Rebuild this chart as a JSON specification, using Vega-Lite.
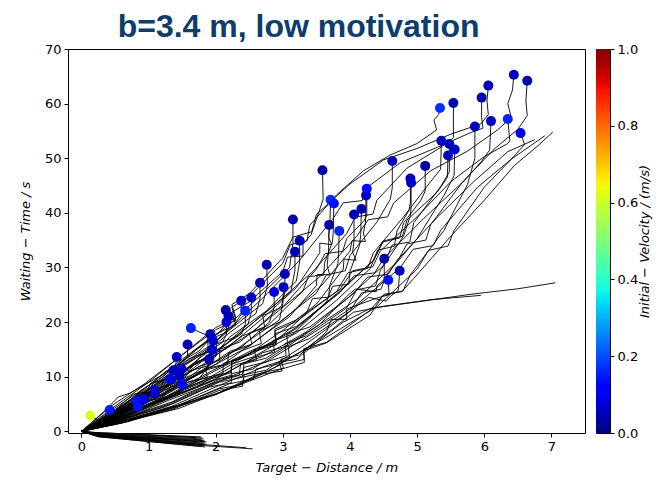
{
"$schema":"https://vega.github.io/schema/vega-lite/v6.json",
"autosize":{"type":"pad"},
"padding":{"left":18,"top":10,"right":4,"bottom":3},
"background":"white",
"bounds":"flush",
"spacing":11,
"title":{"text":"b=3.4 m, low motivation","font":"Liberation Sans","fontSize":32,"fontWeight":"bold","color":"#0d3d6b","anchor":"middle","dx":-37,"offset":-1},
"config":{"view":{"stroke":"#000","strokeWidth":1},
"axis":{"labelFont":"DejaVu Sans","labelFontSize":13,"labelColor":"#000","titleFont":"DejaVu Sans","titleFontSize":13,"titleFontWeight":"normal","titleFontStyle":"italic","titleColor":"#000","tickColor":"#000","tickSize":4,"tickWidth":1,"domain":false,"grid":false,"labelPadding":3}},
"datasets":{
"D":[{"x":0.13,"y":2.9,"v":0.62},{"x":0.42,"y":3.9,"v":0.15},{"x":0.82,"y":5.5,"v":0.14},{"x":0.84,"y":4.5,"v":0.14},{"x":0.93,"y":5.9,"v":0.09},{"x":1.09,"y":7.6,"v":0.05},{"x":1.09,"y":7.0,"v":0.06},{"x":1.32,"y":9.5,"v":0.1},{"x":1.37,"y":11.2,"v":0.05},{"x":1.49,"y":11.4,"v":0.07},{"x":1.46,"y":10.2,"v":0.06},{"x":1.5,"y":8.5,"v":0.11},{"x":1.42,"y":13.6,"v":0.06},{"x":1.58,"y":15.9,"v":0.04},{"x":1.63,"y":18.9,"v":0.16},{"x":1.92,"y":17.8,"v":0.04},{"x":1.96,"y":16.6,"v":0.07},{"x":1.95,"y":14.9,"v":0.07},{"x":1.9,"y":13.2,"v":0.05},{"x":2.15,"y":22.2,"v":0.04},{"x":2.19,"y":21.1,"v":0.05},{"x":2.16,"y":20.0,"v":0.07},{"x":2.38,"y":23.9,"v":0.07},{"x":2.44,"y":22.1,"v":0.16},{"x":2.53,"y":24.5,"v":0.06},{"x":2.66,"y":27.2,"v":0.05},{"x":2.76,"y":30.5,"v":0.04},{"x":2.87,"y":25.5,"v":0.08},{"x":3.01,"y":26.4,"v":0.06},{"x":3.03,"y":28.8,"v":0.05},{"x":3.18,"y":32.9,"v":0.05},{"x":3.25,"y":34.9,"v":0.05},{"x":3.15,"y":38.8,"v":0.04},{"x":3.59,"y":47.8,"v":0.03},{"x":3.69,"y":37.8,"v":0.04},{"x":3.84,"y":36.7,"v":0.16},{"x":3.71,"y":42.4,"v":0.17},{"x":3.76,"y":41.7,"v":0.14},{"x":4.06,"y":39.7,"v":0.05},{"x":4.17,"y":40.7,"v":0.04},{"x":4.24,"y":43.2,"v":0.05},{"x":4.25,"y":44.4,"v":0.13},{"x":4.51,"y":31.6,"v":0.04},{"x":4.57,"y":27.7,"v":0.14},{"x":4.74,"y":29.4,"v":0.04},{"x":4.63,"y":49.5,"v":0.05},{"x":4.9,"y":46.3,"v":0.05},{"x":4.91,"y":45.5,"v":0.06},{"x":5.12,"y":48.6,"v":0.04},{"x":5.34,"y":59.2,"v":0.17},{"x":5.54,"y":60.1,"v":0.04},{"x":5.36,"y":53.2,"v":0.06},{"x":5.48,"y":52.6,"v":0.05},{"x":5.56,"y":51.6,"v":0.06},{"x":5.46,"y":50.5,"v":0.05},{"x":5.86,"y":55.8,"v":0.06},{"x":5.96,"y":61.1,"v":0.04},{"x":6.06,"y":63.3,"v":0.05},{"x":6.1,"y":56.8,"v":0.06},{"x":6.35,"y":57.2,"v":0.16},{"x":6.44,"y":65.3,"v":0.05},{"x":6.64,"y":64.2,"v":0.04},{"x":6.54,"y":54.6,"v":0.09}],
"L":[
{"t":1,"o":0,"x":0,"y":0},{"t":1,"o":1,"x":0.09,"y":0.6},{"t":1,"o":2,"x":0.2,"y":1.3},{"t":1,"o":3,"x":0.25,"y":1.9},{"t":1,"o":4,"x":0.2,"y":2.4},{"t":1,"o":5,"x":0.13,"y":2.9},
{"t":2,"o":0,"x":0,"y":0},{"t":2,"o":1,"x":0.12,"y":0.7},{"t":2,"o":2,"x":0.26,"y":1.5},{"t":2,"o":3,"x":0.37,"y":2.3},{"t":2,"o":4,"x":0.43,"y":2.8},{"t":2,"o":5,"x":0.42,"y":3.9},
{"t":3,"o":0,"x":0,"y":0},{"t":3,"o":1,"x":0.16,"y":1.1},{"t":3,"o":2,"x":0.33,"y":1.9},{"t":3,"o":3,"x":0.5,"y":3.0},{"t":3,"o":4,"x":0.66,"y":3.7},{"t":3,"o":5,"x":0.8,"y":4.7},{"t":3,"o":6,"x":0.82,"y":5.5},
{"t":4,"o":0,"x":0,"y":0},{"t":4,"o":1,"x":0.2,"y":0.8},{"t":4,"o":2,"x":0.4,"y":1.9},{"t":4,"o":3,"x":0.58,"y":2.5},{"t":4,"o":4,"x":0.75,"y":3.4},{"t":4,"o":5,"x":0.85,"y":3.8},{"t":4,"o":6,"x":0.84,"y":4.5},
{"t":5,"o":0,"x":0,"y":0},{"t":5,"o":1,"x":0.18,"y":1.2},{"t":5,"o":2,"x":0.38,"y":2.2},{"t":5,"o":3,"x":0.56,"y":3.5},{"t":5,"o":4,"x":0.73,"y":4.2},{"t":5,"o":5,"x":0.89,"y":5.1},{"t":5,"o":6,"x":0.93,"y":5.9},
{"t":6,"o":0,"x":0,"y":0},{"t":6,"o":1,"x":0.18,"y":1.3},{"t":6,"o":2,"x":0.4,"y":2.6},{"t":6,"o":3,"x":0.6,"y":4.3},{"t":6,"o":4,"x":0.8,"y":5.3},{"t":6,"o":5,"x":0.97,"y":6.5},{"t":6,"o":6,"x":1.08,"y":6.7},{"t":6,"o":7,"x":1.09,"y":7.6},
{"t":7,"o":0,"x":0,"y":0},{"t":7,"o":1,"x":0.21,"y":0.9},{"t":7,"o":2,"x":0.43,"y":2.5},{"t":7,"o":3,"x":0.65,"y":3.6},{"t":7,"o":4,"x":0.86,"y":5.1},{"t":7,"o":5,"x":1.01,"y":5.6},{"t":7,"o":6,"x":1.1,"y":6.1},{"t":7,"o":7,"x":1.09,"y":7.0},
{"t":8,"o":0,"x":0,"y":0},{"t":8,"o":1,"x":0.22,"y":1.2},{"t":8,"o":2,"x":0.46,"y":2.5},{"t":8,"o":3,"x":0.69,"y":4.5},{"t":8,"o":4,"x":0.92,"y":5.7},{"t":8,"o":5,"x":1.13,"y":7.5},{"t":8,"o":6,"x":1.3,"y":8.2},{"t":8,"o":7,"x":1.32,"y":9.5},
{"t":9,"o":0,"x":0,"y":0},{"t":9,"o":1,"x":0.2,"y":1.5},{"t":9,"o":2,"x":0.44,"y":3.0},{"t":9,"o":3,"x":0.67,"y":5.3},{"t":9,"o":4,"x":0.9,"y":6.8},{"t":9,"o":5,"x":1.13,"y":8.9},{"t":9,"o":6,"x":1.35,"y":9.8},{"t":9,"o":7,"x":1.37,"y":11.2},
{"t":10,"o":0,"x":0,"y":0},{"t":10,"o":1,"x":0.25,"y":1.2},{"t":10,"o":2,"x":0.51,"y":3.3},{"t":10,"o":3,"x":0.76,"y":4.8},{"t":10,"o":4,"x":1.01,"y":7.1},{"t":10,"o":5,"x":1.26,"y":8.4},{"t":10,"o":6,"x":1.47,"y":10.1},{"t":10,"o":7,"x":1.49,"y":11.4},
{"t":11,"o":0,"x":0,"y":0},{"t":11,"o":1,"x":0.23,"y":1.1},{"t":11,"o":2,"x":0.49,"y":2.3},{"t":11,"o":3,"x":0.74,"y":4.4},{"t":11,"o":4,"x":1.0,"y":5.7},{"t":11,"o":5,"x":1.23,"y":7.6},{"t":11,"o":6,"x":1.45,"y":8.6},{"t":11,"o":7,"x":1.46,"y":10.2},
{"t":12,"o":0,"x":0,"y":0},{"t":12,"o":1,"x":0.26,"y":0.9},{"t":12,"o":2,"x":0.53,"y":2.5},{"t":12,"o":3,"x":0.79,"y":3.6},{"t":12,"o":4,"x":1.04,"y":5.3},{"t":12,"o":5,"x":1.29,"y":6.1},{"t":12,"o":6,"x":1.5,"y":7.3},{"t":12,"o":7,"x":1.5,"y":8.5},
{"t":13,"o":0,"x":0,"y":0},{"t":13,"o":1,"x":0.15,"y":1.6},{"t":13,"o":2,"x":0.35,"y":3.8},{"t":13,"o":3,"x":0.55,"y":6.3},{"t":13,"o":4,"x":0.72,"y":7.0},{"t":13,"o":5,"x":0.95,"y":8.6},{"t":13,"o":6,"x":1.2,"y":10.3},{"t":13,"o":7,"x":1.4,"y":11.9},{"t":13,"o":8,"x":1.42,"y":13.6},
{"t":14,"o":0,"x":0,"y":0},{"t":14,"o":1,"x":0.26,"y":2.1},{"t":14,"o":2,"x":0.52,"y":4.1},{"t":14,"o":3,"x":0.77,"y":6.8},{"t":14,"o":3.5,"x":0.975,"y":7.2},{"t":14,"o":4,"x":1.02,"y":8.6},{"t":14,"o":5,"x":1.27,"y":11.1},{"t":14,"o":6,"x":1.5,"y":12.6},{"t":14,"o":7,"x":1.58,"y":13.6},{"t":14,"o":8,"x":1.58,"y":15.9},
{"t":15,"o":0,"x":0,"y":0},{"t":15,"o":1,"x":0.3,"y":2.3},{"t":15,"o":2,"x":0.6,"y":4.5},{"t":15,"o":3,"x":0.9,"y":7.6},{"t":15,"o":4,"x":1.2,"y":9.9},{"t":15,"o":5,"x":1.5,"y":12.9},{"t":15,"o":6,"x":1.75,"y":14.7},{"t":15,"o":7,"x":1.87,"y":16.3},{"t":15,"o":8,"x":1.88,"y":17.5},{"t":15,"o":9,"x":1.63,"y":18.9},
{"t":16,"o":0,"x":0,"y":0},{"t":16,"o":1,"x":0.3,"y":2.0},{"t":16,"o":2,"x":0.61,"y":4.0},{"t":16,"o":3,"x":0.92,"y":6.9},{"t":16,"o":3.5,"x":1.155,"y":7.55},{"t":16,"o":4,"x":1.23,"y":9.2},{"t":16,"o":5,"x":1.53,"y":12.2},{"t":16,"o":6,"x":1.8,"y":14.1},{"t":16,"o":7,"x":1.93,"y":15.4},{"t":16,"o":8,"x":1.92,"y":17.8},
{"t":17,"o":0,"x":0,"y":0},{"t":17,"o":1,"x":0.31,"y":1.8},{"t":17,"o":2,"x":0.63,"y":3.7},{"t":17,"o":3,"x":0.96,"y":6.5},{"t":17,"o":4,"x":1.29,"y":8.7},{"t":17,"o":5,"x":1.61,"y":11.8},{"t":17,"o":6,"x":1.9,"y":13.8},{"t":17,"o":7,"x":1.97,"y":14.7},{"t":17,"o":8,"x":1.96,"y":16.6},
{"t":18,"o":0,"x":0,"y":0},{"t":18,"o":1,"x":0.31,"y":1.4},{"t":18,"o":2,"x":0.64,"y":3.7},{"t":18,"o":3,"x":0.97,"y":5.4},{"t":18,"o":3.5,"x":1.22,"y":6.25},{"t":18,"o":4,"x":1.31,"y":8.1},{"t":18,"o":5,"x":1.63,"y":10.1},{"t":18,"o":6,"x":1.9,"y":12.8},{"t":18,"o":7,"x":1.96,"y":13.1},{"t":18,"o":8,"x":1.95,"y":14.9},
{"t":19,"o":0,"x":0,"y":0},{"t":19,"o":1,"x":0.3,"y":1.5},{"t":19,"o":2,"x":0.63,"y":3.0},{"t":19,"o":3,"x":0.96,"y":5.3},{"t":19,"o":4,"x":1.29,"y":7.0},{"t":19,"o":5,"x":1.6,"y":9.5},{"t":19,"o":6,"x":1.87,"y":11.2},{"t":19,"o":7,"x":1.9,"y":13.2},
{"t":20,"o":0,"x":0,"y":0},{"t":20,"o":1,"x":0.32,"y":2.5},{"t":20,"o":2,"x":0.68,"y":5.2},{"t":20,"o":3,"x":1.04,"y":8.8},{"t":20,"o":3.5,"x":1.3,"y":9.75},{"t":20,"o":4,"x":1.4,"y":11.7},{"t":20,"o":5,"x":1.75,"y":15.4},{"t":20,"o":6,"x":2.05,"y":18.1},{"t":20,"o":7,"x":2.15,"y":19.6},{"t":20,"o":8,"x":2.15,"y":22.2},
{"t":21,"o":0,"x":0,"y":0},{"t":21,"o":1,"x":0.35,"y":2.1},{"t":21,"o":2,"x":0.72,"y":5.2},{"t":21,"o":3,"x":1.1,"y":7.9},{"t":21,"o":4,"x":1.47,"y":11.5},{"t":21,"o":5,"x":1.83,"y":14.4},{"t":21,"o":6,"x":2.12,"y":17.9},{"t":21,"o":7,"x":2.19,"y":18.9},{"t":21,"o":8,"x":2.19,"y":21.1},
{"t":22,"o":0,"x":0,"y":0},{"t":22,"o":1,"x":0.33,"y":2.1},{"t":22,"o":2,"x":0.7,"y":4.4},{"t":22,"o":3,"x":1.07,"y":7.7},{"t":22,"o":3.5,"x":1.34,"y":8.5},{"t":22,"o":4,"x":1.45,"y":10.3},{"t":22,"o":5,"x":1.8,"y":13.8},{"t":22,"o":6,"x":2.1,"y":16.3},{"t":22,"o":7,"x":2.16,"y":17.8},{"t":22,"o":8,"x":2.16,"y":20.0},
{"t":23,"o":0,"x":0,"y":0},{"t":23,"o":1,"x":0.36,"y":2.4},{"t":23,"o":2,"x":0.76,"y":5.8},{"t":23,"o":3,"x":1.16,"y":8.8},{"t":23,"o":4,"x":1.56,"y":12.8},{"t":23,"o":5,"x":1.95,"y":16.0},{"t":23,"o":6,"x":2.3,"y":20.0},{"t":23,"o":7,"x":2.38,"y":21.4},{"t":23,"o":8,"x":2.38,"y":23.9},
{"t":24,"o":0,"x":0,"y":0},{"t":24,"o":1,"x":0.37,"y":2.2},{"t":24,"o":2,"x":0.78,"y":4.7},{"t":24,"o":3,"x":1.2,"y":8.2},{"t":24,"o":3.5,"x":1.49,"y":9.15},{"t":24,"o":4,"x":1.62,"y":11.1},{"t":24,"o":5,"x":2.0,"y":14.8},{"t":24,"o":6,"x":2.38,"y":17.8},{"t":24,"o":7,"x":2.44,"y":19.6},{"t":24,"o":8,"x":2.44,"y":22.1},
{"t":25,"o":0,"x":0,"y":0},{"t":25,"o":1,"x":0.38,"y":2.2},{"t":25,"o":2,"x":0.8,"y":5.4},{"t":25,"o":3,"x":1.24,"y":8.3},{"t":25,"o":4,"x":1.68,"y":12.2},{"t":25,"o":5,"x":2.1,"y":15.4},{"t":25,"o":6,"x":2.48,"y":19.6},{"t":25,"o":7,"x":2.53,"y":21.8},{"t":25,"o":8,"x":2.53,"y":24.5},
{"t":26,"o":0,"x":0,"y":0},{"t":26,"o":1,"x":0.4,"y":2.8},{"t":26,"o":2,"x":0.85,"y":5.9},{"t":26,"o":3,"x":1.3,"y":10.0},{"t":26,"o":3.5,"x":1.61,"y":11.25},{"t":26,"o":4,"x":1.76,"y":13.5},{"t":26,"o":5,"x":2.2,"y":18.0},{"t":26,"o":6,"x":2.6,"y":21.6},{"t":26,"o":7,"x":2.66,"y":24.3},{"t":26,"o":8,"x":2.66,"y":27.2},
{"t":27,"o":0,"x":0,"y":0},{"t":27,"o":1,"x":0.42,"y":3.0},{"t":27,"o":2,"x":0.88,"y":6.4},{"t":27,"o":3,"x":1.36,"y":10.9},{"t":27,"o":4,"x":1.84,"y":14.8},{"t":27,"o":5,"x":2.3,"y":19.5},{"t":27,"o":6,"x":2.7,"y":23.4},{"t":27,"o":7,"x":2.77,"y":26.6},{"t":27,"o":8,"x":2.76,"y":30.5},
{"t":28,"o":0,"x":0,"y":0},{"t":28,"o":1,"x":0.43,"y":2.1},{"t":28,"o":2,"x":0.92,"y":5.3},{"t":28,"o":3,"x":1.42,"y":8.2},{"t":28,"o":3.5,"x":1.75,"y":9.7},{"t":28,"o":4,"x":1.92,"y":12.2},{"t":28,"o":5,"x":2.4,"y":15.6},{"t":28,"o":6,"x":2.8,"y":20.0},{"t":28,"o":7,"x":2.87,"y":22.6},{"t":28,"o":8,"x":2.87,"y":25.5},
{"t":29,"o":0,"x":0,"y":0},{"t":29,"o":1,"x":0.45,"y":2.4},{"t":29,"o":2,"x":0.96,"y":5.1},{"t":29,"o":3,"x":1.48,"y":8.9},{"t":29,"o":4,"x":2.0,"y":12.3},{"t":29,"o":5,"x":2.5,"y":16.7},{"t":29,"o":6,"x":2.95,"y":20.4},{"t":29,"o":7,"x":3.0,"y":23.4},{"t":29,"o":8,"x":3.01,"y":26.4},
{"t":30,"o":0,"x":0,"y":0},{"t":30,"o":1,"x":0.46,"y":2.5},{"t":30,"o":2,"x":0.97,"y":6.2},{"t":30,"o":3,"x":1.5,"y":9.6},{"t":30,"o":3.5,"x":1.845,"y":11.4},{"t":30,"o":4,"x":2.03,"y":14.2},{"t":30,"o":5,"x":2.55,"y":18.2},{"t":30,"o":6,"x":2.98,"y":23.0},{"t":30,"o":7,"x":3.03,"y":25.5},{"t":30,"o":8,"x":3.03,"y":28.8},
{"t":31,"o":0,"x":0,"y":0},{"t":31,"o":1,"x":0.48,"y":3.1},{"t":31,"o":2,"x":1.02,"y":6.7},{"t":31,"o":3,"x":1.58,"y":11.5},{"t":31,"o":4,"x":2.14,"y":15.8},{"t":31,"o":5,"x":2.68,"y":21.1},{"t":31,"o":6,"x":3.12,"y":25.6},{"t":31,"o":7,"x":3.18,"y":29.5},{"t":31,"o":8,"x":3.18,"y":32.9},
{"t":32,"o":0,"x":0,"y":0},{"t":32,"o":1,"x":0.49,"y":3.1},{"t":32,"o":2,"x":1.04,"y":7.5},{"t":32,"o":3,"x":1.62,"y":11.8},{"t":32,"o":3.5,"x":1.99,"y":14.0},{"t":32,"o":4,"x":2.2,"y":17.2},{"t":32,"o":5,"x":2.75,"y":22.0},{"t":32,"o":6,"x":3.2,"y":27.5},{"t":32,"o":7,"x":3.25,"y":31.0},{"t":32,"o":8,"x":3.25,"y":34.9},
{"t":33,"o":0,"x":0,"y":0},{"t":33,"o":1,"x":0.47,"y":3.7},{"t":33,"o":2,"x":1.0,"y":8.0},{"t":33,"o":3,"x":1.57,"y":13.6},{"t":33,"o":4,"x":2.13,"y":18.8},{"t":33,"o":5,"x":2.66,"y":24.8},{"t":33,"o":6,"x":3.1,"y":30.0},{"t":33,"o":7,"x":3.15,"y":34.4},{"t":33,"o":8,"x":3.15,"y":38.8},
{"t":34,"o":0,"x":0,"y":0},{"t":34,"o":1,"x":0.5,"y":4.3},{"t":34,"o":2,"x":1.0,"y":8.4},{"t":34,"o":3,"x":1.5,"y":13.2},{"t":34,"o":4,"x":2.0,"y":17.8},{"t":34,"o":4.3,"x":2.3,"y":19.5},{"t":34,"o":4.6,"x":2.24,"y":21.8},{"t":34,"o":5,"x":2.5,"y":23.7},{"t":34,"o":6,"x":3.0,"y":29.3},{"t":34,"o":6.3,"x":3.07,"y":31.9},{"t":34,"o":6.6,"x":3.3,"y":32.1},{"t":34,"o":7,"x":3.3,"y":34.2},{"t":34,"o":8,"x":3.42,"y":36.0},{"t":34,"o":9,"x":3.5,"y":38.8},{"t":34,"o":10,"x":3.6,"y":42.5},{"t":34,"o":11,"x":3.59,"y":47.8},
{"t":35,"o":0,"x":0,"y":0},{"t":35,"o":1,"x":0.5,"y":2.5},{"t":35,"o":2,"x":1.05,"y":5.3},{"t":35,"o":3,"x":1.6,"y":9.1},{"t":35,"o":3.3,"x":1.875,"y":9.79},{"t":35,"o":3.6,"x":1.85,"y":11.46},{"t":35,"o":4,"x":2.1,"y":12.2},{"t":35,"o":5,"x":2.6,"y":16.6},{"t":35,"o":6,"x":3.1,"y":21.0},{"t":35,"o":7,"x":3.5,"y":26.7},{"t":35,"o":7.3,"x":3.51,"y":28.74},{"t":35,"o":7.6,"x":3.7,"y":28.64},{"t":35,"o":8,"x":3.66,"y":30.3},{"t":35,"o":9,"x":3.68,"y":33.0},{"t":35,"o":10,"x":3.69,"y":37.8},
{"t":36,"o":0,"x":0,"y":0},{"t":36,"o":1,"x":0.55,"y":2.1},{"t":36,"o":2,"x":1.1,"y":5.2},{"t":36,"o":3,"x":1.7,"y":8.1},{"t":36,"o":4,"x":2.3,"y":12.2},{"t":36,"o":4.3,"x":2.61,"y":13.13},{"t":36,"o":4.6,"x":2.57,"y":14.98},{"t":36,"o":5,"x":2.85,"y":16.0},{"t":36,"o":6,"x":3.35,"y":21.6},{"t":36,"o":6.3,"x":3.44,"y":24.28},{"t":36,"o":6.6,"x":3.68,"y":24.58},{"t":36,"o":7,"x":3.7,"y":26.8},{"t":36,"o":8,"x":3.82,"y":30.7},{"t":36,"o":9,"x":3.83,"y":32.5},{"t":36,"o":10,"x":3.84,"y":36.7},
{"t":37,"o":0,"x":0,"y":0},{"t":37,"o":1,"x":0.5,"y":3.1},{"t":37,"o":2,"x":1.05,"y":6.5},{"t":37,"o":3,"x":1.6,"y":11.0},{"t":37,"o":3.3,"x":1.89,"y":12.04},{"t":37,"o":3.6,"x":1.88,"y":13.96},{"t":37,"o":4,"x":2.15,"y":15.1},{"t":37,"o":5,"x":2.7,"y":20.7},{"t":37,"o":6,"x":3.2,"y":26.3},{"t":37,"o":7,"x":3.55,"y":32.7},{"t":37,"o":7.3,"x":3.55,"y":34.46},{"t":37,"o":7.6,"x":3.73,"y":34.19},{"t":37,"o":8,"x":3.68,"y":35.6},{"t":37,"o":9,"x":3.7,"y":37.5},{"t":37,"o":10,"x":3.71,"y":42.4},
{"t":38,"o":0,"x":0,"y":0},{"t":38,"o":1,"x":0.52,"y":2.7},{"t":38,"o":2,"x":1.08,"y":6.5},{"t":38,"o":3,"x":1.65,"y":10.0},{"t":38,"o":4,"x":2.22,"y":14.7},{"t":38,"o":4.3,"x":2.54,"y":15.95},{"t":38,"o":4.6,"x":2.5,"y":18.02},{"t":38,"o":5,"x":2.78,"y":19.4},{"t":38,"o":6,"x":3.3,"y":25.7},{"t":38,"o":6.3,"x":3.38,"y":28.34},{"t":38,"o":6.6,"x":3.61,"y":28.62},{"t":38,"o":7,"x":3.62,"y":30.8},{"t":38,"o":8,"x":3.74,"y":34.7},{"t":38,"o":9,"x":3.75,"y":36.5},{"t":38,"o":10,"x":3.76,"y":41.7},
{"t":39,"o":0,"x":0,"y":0},{"t":39,"o":1,"x":0.6,"y":2.7},{"t":39,"o":2,"x":1.2,"y":5.6},{"t":39,"o":3,"x":1.8,"y":9.7},{"t":39,"o":3.3,"x":2.11,"y":10.6},{"t":39,"o":3.6,"x":2.11,"y":12.42},{"t":39,"o":4,"x":2.4,"y":13.4},{"t":39,"o":5,"x":3.0,"y":18.5},{"t":39,"o":6,"x":3.5,"y":23.3},{"t":39,"o":7,"x":3.9,"y":29.7},{"t":39,"o":7.3,"x":3.91,"y":31.54},{"t":39,"o":7.6,"x":4.09,"y":31.32},{"t":39,"o":8,"x":4.04,"y":32.8},{"t":39,"o":9,"x":4.06,"y":35.0},{"t":39,"o":10,"x":4.06,"y":39.7},
{"t":40,"o":0,"x":0,"y":0},{"t":40,"o":1,"x":0.6,"y":2.3},{"t":40,"o":2,"x":1.25,"y":5.7},{"t":40,"o":3,"x":1.9,"y":8.9},{"t":40,"o":4,"x":2.55,"y":13.4},{"t":40,"o":4.3,"x":2.88,"y":14.54},{"t":40,"o":4.6,"x":2.85,"y":16.54},{"t":40,"o":5,"x":3.15,"y":17.8},{"t":40,"o":6,"x":3.65,"y":23.7},{"t":40,"o":6.3,"x":3.74,"y":26.54},{"t":40,"o":6.6,"x":3.98,"y":26.94},{"t":40,"o":7,"x":4.0,"y":29.3},{"t":40,"o":8,"x":4.14,"y":34.0},{"t":40,"o":9,"x":4.16,"y":36.0},{"t":40,"o":10,"x":4.17,"y":40.7},
{"t":41,"o":0,"x":0,"y":0},{"t":41,"o":1,"x":0.58,"y":3.1},{"t":41,"o":2,"x":1.2,"y":6.6},{"t":41,"o":3,"x":1.85,"y":11.2},{"t":41,"o":3.3,"x":2.18,"y":12.34},{"t":41,"o":3.6,"x":2.19,"y":14.34},{"t":41,"o":4,"x":2.5,"y":15.6},{"t":41,"o":5,"x":3.1,"y":21.4},{"t":41,"o":6,"x":3.6,"y":27.0},{"t":41,"o":7,"x":4.0,"y":33.0},{"t":41,"o":7.3,"x":4.03,"y":34.92},{"t":41,"o":7.6,"x":4.23,"y":34.75},{"t":41,"o":8,"x":4.2,"y":36.3},{"t":41,"o":9,"x":4.23,"y":38.2},{"t":41,"o":10,"x":4.24,"y":43.2},
{"t":42,"o":0,"x":0,"y":0},{"t":42,"o":1,"x":0.55,"y":3.3},{"t":42,"o":2,"x":1.15,"y":7.7},{"t":42,"o":3,"x":1.78,"y":12.0},{"t":42,"o":4,"x":2.4,"y":17.5},{"t":42,"o":4.3,"x":2.73,"y":18.96},{"t":42,"o":4.6,"x":2.7,"y":21.18},{"t":42,"o":5,"x":3.0,"y":22.8},{"t":42,"o":6,"x":3.5,"y":29.7},{"t":42,"o":6.3,"x":3.63,"y":32.54},{"t":42,"o":6.6,"x":3.89,"y":32.94},{"t":42,"o":7,"x":3.95,"y":35.3},{"t":42,"o":8,"x":4.2,"y":38.4},{"t":42,"o":9,"x":4.25,"y":39.5},{"t":42,"o":10,"x":4.25,"y":44.4},
{"t":43,"o":0,"x":0,"y":0},{"t":43,"o":1,"x":0.6,"y":2.1},{"t":43,"o":2,"x":1.25,"y":4.5},{"t":43,"o":3,"x":1.9,"y":8.1},{"t":43,"o":3.3,"x":2.23,"y":8.86},{"t":43,"o":3.6,"x":2.24,"y":10.58},{"t":43,"o":4,"x":2.55,"y":11.4},{"t":43,"o":5,"x":3.1,"y":15.8},{"t":43,"o":6,"x":3.55,"y":19.6},{"t":43,"o":7,"x":3.95,"y":24.7},{"t":43,"o":7.3,"x":4.08,"y":26.06},{"t":43,"o":7.6,"x":4.39,"y":25.54},{"t":43,"o":8,"x":4.4,"y":26.6},{"t":43,"o":9,"x":4.51,"y":27.8},{"t":43,"o":10,"x":4.51,"y":31.6},
{"t":44,"o":0,"x":0,"y":0},{"t":44,"o":1,"x":0.62,"y":1.6},{"t":44,"o":2,"x":1.3,"y":4.3},{"t":44,"o":3,"x":2.0,"y":6.8},{"t":44,"o":4,"x":2.7,"y":10.8},{"t":44,"o":4.3,"x":3.01,"y":11.52},{"t":44,"o":4.6,"x":2.97,"y":13.22},{"t":44,"o":5,"x":3.25,"y":14.0},{"t":44,"o":6,"x":3.65,"y":18.2},{"t":44,"o":6.3,"x":3.72,"y":20.48},{"t":44,"o":6.6,"x":3.95,"y":20.53},{"t":44,"o":7,"x":3.95,"y":22.4},{"t":44,"o":8,"x":4.4,"y":24.4},{"t":44,"o":9,"x":4.58,"y":25.0},{"t":44,"o":10,"x":4.57,"y":27.7},
{"t":45,"o":0,"x":0,"y":0},{"t":45,"o":1,"x":0.65,"y":2.0},{"t":45,"o":2,"x":1.35,"y":4.3},{"t":45,"o":3,"x":2.05,"y":7.8},{"t":45,"o":3.3,"x":2.4,"y":8.59},{"t":45,"o":3.6,"x":2.42,"y":10.34},{"t":45,"o":4,"x":2.75,"y":11.2},{"t":45,"o":5,"x":3.3,"y":15.6},{"t":45,"o":6,"x":3.75,"y":19.6},{"t":45,"o":7,"x":4.15,"y":23.4},{"t":45,"o":7.3,"x":4.28,"y":24.52},{"t":45,"o":7.6,"x":4.54,"y":23.85},{"t":45,"o":8,"x":4.6,"y":24.7},{"t":45,"o":9,"x":4.72,"y":25.8},{"t":45,"o":10,"x":4.74,"y":29.4},
{"t":46,"o":0,"x":0,"y":0},{"t":46,"o":1,"x":0.55,"y":3.0},{"t":46,"o":2,"x":1.15,"y":6.3},{"t":46,"o":3,"x":1.75,"y":10.6},{"t":46,"o":4,"x":2.35,"y":14.6},{"t":46,"o":4.3,"x":2.68,"y":16.09},{"t":46,"o":4.6,"x":2.65,"y":18.34},{"t":46,"o":5,"x":2.95,"y":20.0},{"t":46,"o":6,"x":3.5,"y":25.3},{"t":46,"o":6.3,"x":3.65,"y":28.66},{"t":46,"o":6.6,"x":3.93,"y":29.39},{"t":46,"o":7,"x":4.0,"y":32.2},{"t":46,"o":8,"x":4.4,"y":38.3},{"t":46,"o":9,"x":4.6,"y":42.5},{"t":46,"o":10,"x":4.63,"y":44.6},{"t":46,"o":11,"x":4.63,"y":49.5},
{"t":47,"o":0,"x":0,"y":0},{"t":47,"o":1,"x":0.6,"y":2.4},{"t":47,"o":2,"x":1.25,"y":5.9},{"t":47,"o":3,"x":1.9,"y":9.1},{"t":47,"o":3.3,"x":2.23,"y":10.28},{"t":47,"o":3.6,"x":2.24,"y":12.3},{"t":47,"o":4,"x":2.55,"y":13.6},{"t":47,"o":5,"x":3.2,"y":18.0},{"t":47,"o":6,"x":3.8,"y":24.0},{"t":47,"o":7,"x":4.3,"y":29.8},{"t":47,"o":7.3,"x":4.41,"y":33.16},{"t":47,"o":7.6,"x":4.66,"y":33.89},{"t":47,"o":8,"x":4.7,"y":36.7},{"t":47,"o":9,"x":4.88,"y":40.5},{"t":47,"o":10,"x":4.9,"y":42.0},{"t":47,"o":11,"x":4.9,"y":46.3},
{"t":48,"o":0,"x":0,"y":0},{"t":48,"o":1,"x":0.62,"y":2.3},{"t":48,"o":2,"x":1.3,"y":5.0},{"t":48,"o":3,"x":2.0,"y":8.9},{"t":48,"o":4,"x":2.7,"y":12.5},{"t":48,"o":4.3,"x":3.05,"y":13.85},{"t":48,"o":4.6,"x":3.03,"y":16.0},{"t":48,"o":5,"x":3.35,"y":17.5},{"t":48,"o":6,"x":3.95,"y":22.6},{"t":48,"o":6.3,"x":4.1,"y":25.92},{"t":48,"o":6.6,"x":4.38,"y":26.62},{"t":48,"o":7,"x":4.45,"y":29.4},{"t":48,"o":8,"x":4.8,"y":35.8},{"t":48,"o":9,"x":4.9,"y":39.5},{"t":48,"o":10,"x":4.91,"y":41.0},{"t":48,"o":11,"x":4.91,"y":45.5},
{"t":49,"o":0,"x":0,"y":0},{"t":49,"o":1,"x":0.6,"y":2.6},{"t":49,"o":2,"x":1.25,"y":6.3},{"t":49,"o":3,"x":1.9,"y":9.7},{"t":49,"o":3.3,"x":2.23,"y":10.95},{"t":49,"o":3.6,"x":2.24,"y":13.02},{"t":49,"o":4,"x":2.55,"y":14.4},{"t":49,"o":5,"x":3.2,"y":19.0},{"t":49,"o":6,"x":3.8,"y":25.2},{"t":49,"o":7,"x":4.35,"y":31.3},{"t":49,"o":7.3,"x":4.48,"y":34.66},{"t":49,"o":7.6,"x":4.74,"y":35.39},{"t":49,"o":8,"x":4.8,"y":38.2},{"t":49,"o":9,"x":5.05,"y":42.2},{"t":49,"o":10,"x":5.12,"y":44.0},{"t":49,"o":11,"x":5.12,"y":48.6},
{"t":50,"o":0,"x":0,"y":0},{"t":50,"o":1,"x":0.5,"y":4.6},{"t":50,"o":2,"x":1.0,"y":9.0},{"t":50,"o":3,"x":1.5,"y":14.0},{"t":50,"o":4,"x":2.0,"y":18.6},{"t":50,"o":4.3,"x":2.3,"y":20.34},{"t":50,"o":4.6,"x":2.24,"y":22.76},{"t":50,"o":5,"x":2.5,"y":24.7},{"t":50,"o":6,"x":3.0,"y":30.8},{"t":50,"o":6.3,"x":3.11,"y":34.16},{"t":50,"o":6.6,"x":3.36,"y":34.89},{"t":50,"o":7,"x":3.4,"y":37.7},{"t":50,"o":8,"x":3.8,"y":43.3},{"t":50,"o":9,"x":4.2,"y":47.7},{"t":50,"o":10,"x":4.6,"y":50.6},{"t":50,"o":11,"x":5.0,"y":52.7},{"t":50,"o":12,"x":5.29,"y":55.2},{"t":50,"o":13,"x":5.25,"y":57.0},{"t":50,"o":14,"x":5.32,"y":58.0},{"t":50,"o":15,"x":5.34,"y":59.2},
{"t":51,"o":0,"x":0,"y":0},{"t":51,"o":1,"x":0.55,"y":3.7},{"t":51,"o":2,"x":1.1,"y":7.6},{"t":51,"o":3,"x":1.7,"y":12.7},{"t":51,"o":3.3,"x":2.01,"y":13.91},{"t":51,"o":3.6,"x":2.01,"y":15.96},{"t":51,"o":4,"x":2.3,"y":17.3},{"t":51,"o":5,"x":2.9,"y":23.4},{"t":51,"o":6,"x":3.45,"y":29.3},{"t":51,"o":7,"x":3.95,"y":36.2},{"t":51,"o":7.3,"x":4.08,"y":39.24},{"t":51,"o":7.6,"x":4.34,"y":39.77},{"t":51,"o":8,"x":4.4,"y":42.3},{"t":51,"o":9,"x":4.85,"y":48.2},{"t":51,"o":10,"x":5.3,"y":51.6},{"t":51,"o":11,"x":5.5,"y":53.2},{"t":51,"o":12,"x":5.54,"y":53.8},{"t":51,"o":13,"x":5.54,"y":60.1},
{"t":52,"o":0,"x":0,"y":0},{"t":52,"o":1,"x":0.6,"y":2.9},{"t":52,"o":2,"x":1.25,"y":6.1},{"t":52,"o":3,"x":1.9,"y":10.5},{"t":52,"o":4,"x":2.55,"y":14.6},{"t":52,"o":4.3,"x":2.9,"y":16.13},{"t":52,"o":4.6,"x":2.88,"y":18.4},{"t":52,"o":5,"x":3.2,"y":20.1},{"t":52,"o":6,"x":3.8,"y":25.6},{"t":52,"o":6.3,"x":3.97,"y":29.04},{"t":52,"o":6.6,"x":4.26,"y":29.82},{"t":52,"o":7,"x":4.35,"y":32.7},{"t":52,"o":8,"x":4.8,"y":39.3},{"t":52,"o":9,"x":5.2,"y":45.7},{"t":52,"o":10,"x":5.35,"y":48.0},{"t":52,"o":11,"x":5.36,"y":53.2},
{"t":53,"o":0,"x":0,"y":0},{"t":53,"o":1,"x":0.62,"y":2.2},{"t":53,"o":2,"x":1.3,"y":5.7},{"t":53,"o":3,"x":2.0,"y":9.0},{"t":53,"o":3.3,"x":2.35,"y":10.25},{"t":53,"o":3.6,"x":2.37,"y":12.32},{"t":53,"o":4,"x":2.7,"y":13.7},{"t":53,"o":5,"x":3.35,"y":18.2},{"t":53,"o":6,"x":3.95,"y":24.2},{"t":53,"o":7,"x":4.5,"y":30.4},{"t":53,"o":7.3,"x":4.63,"y":34.12},{"t":53,"o":7.6,"x":4.89,"y":34.67},{"t":53,"o":8,"x":4.95,"y":38.2},{"t":53,"o":9,"x":5.35,"y":44.8},{"t":53,"o":10,"x":5.48,"y":47.5},{"t":53,"o":11,"x":5.48,"y":52.6},
{"t":54,"o":0,"x":0,"y":0},{"t":54,"o":1,"x":0.65,"y":2.1},{"t":54,"o":2,"x":1.35,"y":4.6},{"t":54,"o":3,"x":2.05,"y":8.4},{"t":54,"o":4,"x":2.75,"y":12.0},{"t":54,"o":4.3,"x":3.1,"y":13.35},{"t":54,"o":4.6,"x":3.08,"y":15.5},{"t":54,"o":5,"x":3.4,"y":17.0},{"t":54,"o":6,"x":4.0,"y":22.0},{"t":54,"o":6.3,"x":4.17,"y":25.32},{"t":54,"o":6.6,"x":4.46,"y":26.02},{"t":54,"o":7,"x":4.55,"y":28.8},{"t":54,"o":8,"x":5.0,"y":35.3},{"t":54,"o":9,"x":5.4,"y":43.2},{"t":54,"o":10,"x":5.55,"y":46.8},{"t":54,"o":11,"x":5.56,"y":51.6},
{"t":55,"o":0,"x":0,"y":0},{"t":55,"o":1,"x":0.6,"y":2.5},{"t":55,"o":2,"x":1.25,"y":6.1},{"t":55,"o":3,"x":1.9,"y":9.5},{"t":55,"o":3.3,"x":2.23,"y":10.75},{"t":55,"o":3.6,"x":2.24,"y":12.82},{"t":55,"o":4,"x":2.55,"y":14.2},{"t":55,"o":5,"x":3.2,"y":18.8},{"t":55,"o":6,"x":3.8,"y":25.0},{"t":55,"o":7,"x":4.35,"y":31.3},{"t":55,"o":7.3,"x":4.5,"y":34.86},{"t":55,"o":7.6,"x":4.78,"y":35.71},{"t":55,"o":8,"x":4.85,"y":38.7},{"t":55,"o":9,"x":5.3,"y":43.8},{"t":55,"o":10,"x":5.45,"y":46.5},{"t":55,"o":11,"x":5.46,"y":50.5},
{"t":56,"o":0,"x":0,"y":0},{"t":56,"o":1,"x":0.7,"y":1.9},{"t":56,"o":2,"x":1.45,"y":4.2},{"t":56,"o":3,"x":2.2,"y":7.8},{"t":56,"o":4,"x":2.95,"y":11.3},{"t":56,"o":4.3,"x":3.32,"y":12.62},{"t":56,"o":4.6,"x":3.31,"y":14.74},{"t":56,"o":5,"x":3.65,"y":16.2},{"t":56,"o":6,"x":4.3,"y":21.3},{"t":56,"o":6.3,"x":4.49,"y":24.86},{"t":56,"o":6.6,"x":4.79,"y":25.71},{"t":56,"o":7,"x":4.9,"y":28.7},{"t":56,"o":8,"x":5.4,"y":36.8},{"t":56,"o":9,"x":5.75,"y":45.2},{"t":56,"o":10,"x":5.86,"y":50.0},{"t":56,"o":11,"x":5.86,"y":55.8},
{"t":57,"o":0,"x":0,"y":0},{"t":57,"o":1,"x":0.5,"y":3.9},{"t":57,"o":2,"x":1.05,"y":8.2},{"t":57,"o":3,"x":1.6,"y":13.3},{"t":57,"o":3.3,"x":1.89,"y":14.58},{"t":57,"o":3.6,"x":1.88,"y":16.68},{"t":57,"o":4,"x":2.15,"y":18.1},{"t":57,"o":5,"x":2.7,"y":24.4},{"t":57,"o":6,"x":3.25,"y":31.3},{"t":57,"o":7,"x":3.75,"y":39.0},{"t":57,"o":7.3,"x":3.9,"y":41.84},{"t":57,"o":7.6,"x":4.18,"y":42.24},{"t":57,"o":8,"x":4.25,"y":44.6},{"t":57,"o":9,"x":4.75,"y":49.2},{"t":57,"o":10,"x":5.3,"y":52.0},{"t":57,"o":11,"x":5.8,"y":54.7},{"t":57,"o":12,"x":5.98,"y":55.5},{"t":57,"o":13,"x":5.96,"y":57.5},{"t":57,"o":14,"x":5.96,"y":61.1},
{"t":58,"o":0,"x":0,"y":0},{"t":58,"o":1,"x":0.45,"y":4.7},{"t":58,"o":2,"x":0.95,"y":8.8},{"t":58,"o":3,"x":1.5,"y":14.0},{"t":58,"o":4,"x":2.0,"y":19.0},{"t":58,"o":4.3,"x":2.3,"y":20.77},{"t":58,"o":4.6,"x":2.24,"y":23.22},{"t":58,"o":5,"x":2.5,"y":25.2},{"t":58,"o":6,"x":3.0,"y":31.8},{"t":58,"o":6.3,"x":3.15,"y":35.56},{"t":58,"o":6.6,"x":3.43,"y":36.54},{"t":58,"o":7,"x":3.5,"y":39.7},{"t":58,"o":8,"x":4.0,"y":45.3},{"t":58,"o":9,"x":4.5,"y":49.7},{"t":58,"o":10,"x":5.0,"y":51.8},{"t":58,"o":11,"x":5.5,"y":54.4},{"t":58,"o":12,"x":5.95,"y":56.3},{"t":58,"o":13,"x":6.06,"y":58.0},{"t":58,"o":14,"x":6.04,"y":60.5},{"t":58,"o":15,"x":6.06,"y":63.3},
{"t":59,"o":0,"x":0,"y":0},{"t":59,"o":1,"x":0.65,"y":2.5},{"t":59,"o":2,"x":1.35,"y":5.4},{"t":59,"o":3,"x":2.05,"y":9.5},{"t":59,"o":3.3,"x":2.4,"y":10.47},{"t":59,"o":3.6,"x":2.42,"y":12.34},{"t":59,"o":4,"x":2.75,"y":13.4},{"t":59,"o":5,"x":3.45,"y":18.8},{"t":59,"o":6,"x":4.1,"y":24.1},{"t":59,"o":7,"x":4.7,"y":31.0},{"t":59,"o":7.3,"x":4.85,"y":34.32},{"t":59,"o":7.6,"x":5.13,"y":35.02},{"t":59,"o":8,"x":5.2,"y":37.8},{"t":59,"o":9,"x":5.65,"y":45.2},{"t":59,"o":10,"x":5.95,"y":49.3},{"t":59,"o":11,"x":6.08,"y":51.5},{"t":59,"o":12,"x":6.1,"y":56.8},
{"t":60,"o":0,"x":0,"y":0},{"t":60,"o":1,"x":0.6,"y":3.0},{"t":60,"o":2,"x":1.25,"y":6.3},{"t":60,"o":3,"x":1.9,"y":10.8},{"t":60,"o":4,"x":2.55,"y":14.9},{"t":60,"o":4.3,"x":2.9,"y":16.43},{"t":60,"o":4.6,"x":2.88,"y":18.7},{"t":60,"o":5,"x":3.2,"y":20.4},{"t":60,"o":6,"x":3.85,"y":26.0},{"t":60,"o":6.3,"x":4.04,"y":29.4},{"t":60,"o":6.6,"x":4.34,"y":30.15},{"t":60,"o":7,"x":4.45,"y":33.0},{"t":60,"o":8,"x":5.0,"y":39.3},{"t":60,"o":9,"x":5.5,"y":45.7},{"t":60,"o":10,"x":6.0,"y":50.3},{"t":60,"o":11,"x":6.35,"y":52.7},{"t":60,"o":12,"x":6.38,"y":53.2},{"t":60,"o":13,"x":6.35,"y":57.2},
{"t":61,"o":0,"x":0,"y":0},{"t":61,"o":1,"x":0.55,"y":3.4},{"t":61,"o":2,"x":1.15,"y":7.1},{"t":61,"o":3,"x":1.75,"y":11.9},{"t":61,"o":3.3,"x":2.06,"y":13.04},{"t":61,"o":3.6,"x":2.06,"y":15.04},{"t":61,"o":4,"x":2.35,"y":16.3},{"t":61,"o":5,"x":2.95,"y":22.2},{"t":61,"o":6,"x":3.55,"y":28.3},{"t":61,"o":7,"x":4.1,"y":35.7},{"t":61,"o":7.3,"x":4.27,"y":38.74},{"t":61,"o":7.6,"x":4.56,"y":39.27},{"t":61,"o":8,"x":4.65,"y":41.8},{"t":61,"o":9,"x":5.2,"y":47.7},{"t":61,"o":10,"x":5.75,"y":51.3},{"t":61,"o":11,"x":6.2,"y":55.2},{"t":61,"o":12,"x":6.4,"y":57.5},{"t":61,"o":13,"x":6.35,"y":60.0},{"t":61,"o":14,"x":6.42,"y":62.5},{"t":61,"o":15,"x":6.44,"y":65.3},
{"t":62,"o":0,"x":0,"y":0},{"t":62,"o":1,"x":0.6,"y":2.6},{"t":62,"o":2,"x":1.25,"y":6.3},{"t":62,"o":3,"x":1.9,"y":9.8},{"t":62,"o":4,"x":2.55,"y":14.6},{"t":62,"o":4.3,"x":2.9,"y":15.81},{"t":62,"o":4.6,"x":2.88,"y":17.86},{"t":62,"o":5,"x":3.2,"y":19.2},{"t":62,"o":6,"x":3.85,"y":25.4},{"t":62,"o":6.3,"x":4.06,"y":28.48},{"t":62,"o":6.6,"x":4.37,"y":29.03},{"t":62,"o":7,"x":4.5,"y":31.6},{"t":62,"o":8,"x":5.1,"y":39.0},{"t":62,"o":9,"x":5.65,"y":45.3},{"t":62,"o":10,"x":6.15,"y":51.7},{"t":62,"o":11,"x":6.5,"y":55.3},{"t":62,"o":12,"x":6.64,"y":57.8},{"t":62,"o":13,"x":6.62,"y":60.5},{"t":62,"o":14,"x":6.64,"y":64.2},
{"t":63,"o":0,"x":0,"y":0},{"t":63,"o":1,"x":0.7,"y":2.2},{"t":63,"o":2,"x":1.45,"y":4.8},{"t":63,"o":3,"x":2.2,"y":8.7},{"t":63,"o":3.3,"x":2.56,"y":9.6},{"t":63,"o":3.6,"x":2.6,"y":11.42},{"t":63,"o":4,"x":2.95,"y":12.4},{"t":63,"o":5,"x":3.7,"y":17.6},{"t":63,"o":6,"x":4.4,"y":22.8},{"t":63,"o":7,"x":5.0,"y":29.7},{"t":63,"o":7.3,"x":5.17,"y":33.14},{"t":63,"o":7.6,"x":5.46,"y":33.92},{"t":63,"o":8,"x":5.55,"y":36.8},{"t":63,"o":9,"x":6.0,"y":44.7},{"t":63,"o":10,"x":6.4,"y":49.8},{"t":63,"o":11,"x":6.6,"y":52.5},{"t":63,"o":12,"x":6.54,"y":54.6},
{"t":64,"o":0,"x":0,"y":0},{"t":64,"o":1,"x":0.6,"y":1.5},{"t":64,"o":2,"x":1.3,"y":4.0},{"t":64,"o":3,"x":2.0,"y":6.7},{"t":64,"o":4,"x":2.7,"y":10.5},{"t":64,"o":4.3,"x":2.99,"y":11.05},{"t":64,"o":4.6,"x":2.94,"y":12.62},{"t":64,"o":5,"x":3.2,"y":13.2},{"t":64,"o":6,"x":3.6,"y":17.2},{"t":64,"o":7,"x":3.9,"y":20.0},{"t":64,"o":8,"x":4.3,"y":22.5},{"t":64,"o":9,"x":5.0,"y":23.7},{"t":64,"o":10,"x":5.8,"y":25.1},{"t":64,"o":11,"x":6.5,"y":26.1},{"t":64,"o":12,"x":7.06,"y":27.2},
{"t":65,"o":0,"x":0,"y":0},{"t":65,"o":1,"x":0.64,"y":1.9},{"t":65,"o":2,"x":1.35,"y":4.0},{"t":65,"o":3,"x":2.05,"y":7.5},{"t":65,"o":3.3,"x":2.4,"y":8.26},{"t":65,"o":3.6,"x":2.42,"y":9.98},{"t":65,"o":4,"x":2.75,"y":10.8},{"t":65,"o":5,"x":3.3,"y":14.8},{"t":65,"o":6,"x":3.7,"y":18.3},{"t":65,"o":7,"x":4.05,"y":21.8},{"t":65,"o":8,"x":4.5,"y":22.9},{"t":65,"o":9,"x":5.2,"y":24.1},{"t":65,"o":10,"x":5.95,"y":24.9},
{"t":66,"o":0,"x":0,"y":0},{"t":66,"o":1,"x":0.7,"y":1.8},{"t":66,"o":2,"x":1.45,"y":4.7},{"t":66,"o":3,"x":2.2,"y":7.7},{"t":66,"o":4,"x":2.95,"y":12.1},{"t":66,"o":4.3,"x":3.32,"y":13.17},{"t":66,"o":4.6,"x":3.31,"y":15.12},{"t":66,"o":5,"x":3.65,"y":16.3},{"t":66,"o":6,"x":4.3,"y":22.2},{"t":66,"o":6.3,"x":4.51,"y":25.12},{"t":66,"o":6.6,"x":4.77,"y":25.57},{"t":66,"o":7,"x":4.95,"y":28.0},{"t":66,"o":8,"x":5.5,"y":35.7},{"t":66,"o":9,"x":6.0,"y":42.3},{"t":66,"o":10,"x":6.45,"y":48.7},{"t":66,"o":11,"x":6.8,"y":52.3},{"t":66,"o":12,"x":7.02,"y":54.8},
{"t":67,"o":0,"x":0,"y":0},{"t":67,"o":1,"x":0.65,"y":2.3},{"t":67,"o":2,"x":1.35,"y":5.0},{"t":67,"o":3,"x":2.05,"y":9.0},{"t":67,"o":3.3,"x":2.4,"y":9.9},{"t":67,"o":3.6,"x":2.42,"y":11.72},{"t":67,"o":4,"x":2.75,"y":12.7},{"t":67,"o":5,"x":3.45,"y":18.0},{"t":67,"o":6,"x":4.1,"y":23.2},{"t":67,"o":7,"x":4.75,"y":30.0},{"t":67,"o":7.3,"x":4.94,"y":33.32},{"t":67,"o":7.6,"x":5.24,"y":34.02},{"t":67,"o":8,"x":5.35,"y":36.8},{"t":67,"o":9,"x":5.9,"y":44.7},{"t":67,"o":10,"x":6.4,"y":49.8},{"t":67,"o":11,"x":6.9,"y":54.1},
{"t":68,"o":0,"x":0,"y":0},{"t":68,"o":1,"x":0.6,"y":2.4},{"t":68,"o":2,"x":1.3,"y":6.1},{"t":68,"o":3,"x":2.0,"y":9.6},{"t":68,"o":4,"x":2.7,"y":14.4},{"t":68,"o":4.3,"x":3.07,"y":15.65},{"t":68,"o":4.6,"x":3.06,"y":17.72},{"t":68,"o":5,"x":3.4,"y":19.1},{"t":68,"o":6,"x":4.05,"y":25.2},{"t":68,"o":6.3,"x":4.26,"y":28.24},{"t":68,"o":6.6,"x":4.57,"y":28.77},{"t":68,"o":7,"x":4.7,"y":31.3},{"t":68,"o":8,"x":5.3,"y":39.2},{"t":68,"o":9,"x":5.85,"y":45.8},{"t":68,"o":10,"x":6.35,"y":51.2},{"t":68,"o":11,"x":6.75,"y":53.4},
{"t":69,"o":0,"x":0,"y":0},{"t":69,"o":1,"x":0.25,"y":-0.25},{"t":69,"o":2,"x":1.78,"y":-1.0},
{"t":70,"o":0,"x":0,"y":0},{"t":70,"o":1,"x":0.25,"y":-0.35},{"t":70,"o":2,"x":1.8,"y":-1.2},
{"t":71,"o":0,"x":0,"y":0},{"t":71,"o":1,"x":0.25,"y":-0.45},{"t":71,"o":2,"x":1.82,"y":-1.4},
{"t":72,"o":0,"x":0,"y":0},{"t":72,"o":1,"x":0.25,"y":-0.5},{"t":72,"o":2,"x":1.79,"y":-1.55},
{"t":73,"o":0,"x":0,"y":0},{"t":73,"o":1,"x":0.25,"y":-0.6},{"t":73,"o":2,"x":1.83,"y":-1.7},
{"t":74,"o":0,"x":0,"y":0},{"t":74,"o":1,"x":0.25,"y":-0.65},{"t":74,"o":2,"x":1.8,"y":-1.85},
{"t":75,"o":0,"x":0,"y":0},{"t":75,"o":1,"x":0.25,"y":-0.7},{"t":75,"o":2,"x":1.84,"y":-2.0},
{"t":76,"o":0,"x":0,"y":0},{"t":76,"o":1,"x":0.25,"y":-0.75},{"t":76,"o":2,"x":1.81,"y":-2.15},
{"t":77,"o":0,"x":0,"y":0},{"t":77,"o":1,"x":0.25,"y":-0.8},{"t":77,"o":2,"x":1.85,"y":-2.3},
{"t":78,"o":0,"x":0,"y":0},{"t":78,"o":1,"x":0.25,"y":-0.85},{"t":78,"o":2,"x":1.8,"y":-2.45},
{"t":79,"o":0,"x":0,"y":0},{"t":79,"o":1,"x":0.25,"y":-0.9},{"t":79,"o":2,"x":1.83,"y":-2.6},
{"t":80,"o":0,"x":0,"y":0},{"t":80,"o":1,"x":0.25,"y":-1.0},{"t":80,"o":2,"x":1.78,"y":-2.75},
{"t":81,"o":0,"x":0,"y":0},{"t":81,"o":1,"x":0.3,"y":-0.9},{"t":81,"o":2,"x":1.8,"y":-2.6},{"t":81,"o":3,"x":2.55,"y":-3.2},
{"t":82,"o":0,"x":0,"y":0},{"t":82,"o":1,"x":0.3,"y":-0.8},{"t":82,"o":2,"x":1.9,"y":-2.5},{"t":82,"o":3,"x":2.45,"y":-3.0},
{"t":83,"o":0,"x":0,"y":0},{"t":83,"o":1,"x":0.2,"y":-0.2},{"t":83,"o":2,"x":1.7,"y":-1.1},
{"t":84,"o":0,"x":0,"y":0},{"t":84,"o":1,"x":0.25,"y":-0.55},{"t":84,"o":2,"x":1.86,"y":-1.9},
{"t":85,"o":0,"x":0,"y":0},{"t":85,"o":1,"x":0.25,"y":-0.95},{"t":85,"o":2,"x":1.84,"y":-2.85}
]},
"hconcat":[
{"width":517,"height":384,
"layer":[
{"data":{"name":"L"},"mark":{"type":"line","color":"#000","strokeWidth":0.9},
"encoding":{"x":{"field":"x","type":"quantitative","scale":{"domain":[-0.2,7.5],"nice":false,"zero":false},"axis":{"values":[0,1,2,3,4,5,6,7],"format":"d","title":"Target − Distance / m","titlePadding":8}},
"y":{"field":"y","type":"quantitative","scale":{"domain":[-0.3,70],"nice":false,"zero":false},"axis":{"values":[0,10,20,30,40,50,60,70],"format":"d","title":"Waiting − Time / s","titlePadding":12}},
"detail":{"field":"t"},"order":{"field":"o"}}},
{"data":{"name":"D"},"mark":{"type":"circle","size":100,"opacity":1},
"encoding":{"x":{"field":"x","type":"quantitative"},"y":{"field":"y","type":"quantitative"},
"color":{"field":"v","type":"quantitative","scale":{"type":"linear","domain":[0,0.11,0.125,0.35,0.375,0.64,0.66,0.89,0.91,1],"range":["#000080","#0000ff","#0000ff","#00e5f7","#14ffe2","#eeff08","#ffec00","#ff1300","#e80000","#800000"],"interpolate":"rgb"},"legend":null}}}
]},
{"width":14,"height":384,
"data":{"values":[{"lo":0,"hi":1}]},
"mark":{"type":"rect","fill":{"gradient":"linear","x1":0,"y1":1,"x2":0,"y2":0,"stops":[{"offset":0,"color":"#000080"},{"offset":0.11,"color":"#0000ff"},{"offset":0.125,"color":"#0000ff"},{"offset":0.35,"color":"#00e5f7"},{"offset":0.375,"color":"#14ffe2"},{"offset":0.64,"color":"#eeff08"},{"offset":0.66,"color":"#ffec00"},{"offset":0.89,"color":"#ff1300"},{"offset":0.91,"color":"#e80000"},{"offset":1,"color":"#800000"}]}},
"encoding":{"y":{"field":"lo","type":"quantitative","scale":{"domain":[0,1],"nice":false,"zero":false},"axis":{"orient":"right","values":[0,0.2,0.4,0.6,0.8,1],"format":".1f","title":"Initial − Velocity / (m/s)","titleAngle":270,"titleBaseline":"top","titlePadding":1}},"y2":{"field":"hi"}}}
]
}
